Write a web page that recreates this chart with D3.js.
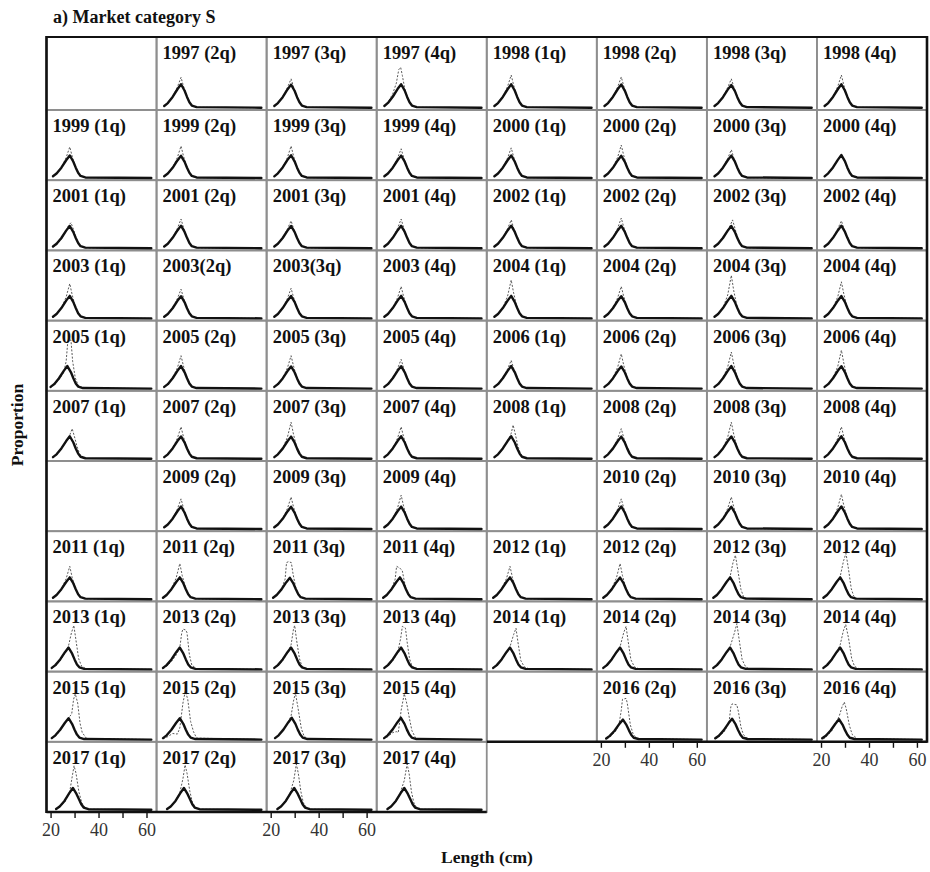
<!DOCTYPE html>
<html>
<head>
<meta charset="utf-8">
<script src="https://cdn.jsdelivr.net/npm/d3@7"></script>
<style>
  body { margin: 0; background: #fff; }
  svg { display: block; }
</style>
</head>
<body>
<svg id="chart" width="930" height="872"></svg>
<script>
// Panel titles in reading order, 8 per row ("" = framed empty panel)
const panelLabels = [
  "", "1997 (2q)", "1997 (3q)", "1997 (4q)", "1998 (1q)", "1998 (2q)", "1998 (3q)", "1998 (4q)",
  "1999 (1q)", "1999 (2q)", "1999 (3q)", "1999 (4q)", "2000 (1q)", "2000 (2q)", "2000 (3q)", "2000 (4q)",
  "2001 (1q)", "2001 (2q)", "2001 (3q)", "2001 (4q)", "2002 (1q)", "2002 (2q)", "2002 (3q)", "2002 (4q)",
  "2003 (1q)", "2003(2q)", "2003(3q)", "2003 (4q)", "2004 (1q)", "2004 (2q)", "2004 (3q)", "2004 (4q)",
  "2005 (1q)", "2005 (2q)", "2005 (3q)", "2005 (4q)", "2006 (1q)", "2006 (2q)", "2006 (3q)", "2006 (4q)",
  "2007 (1q)", "2007 (2q)", "2007 (3q)", "2007 (4q)", "2008 (1q)", "2008 (2q)", "2008 (3q)", "2008 (4q)",
  "", "2009 (2q)", "2009 (3q)", "2009 (4q)", "", "2010 (2q)", "2010 (3q)", "2010 (4q)",
  "2011 (1q)", "2011 (2q)", "2011 (3q)", "2011 (4q)", "2012 (1q)", "2012 (2q)", "2012 (3q)", "2012 (4q)",
  "2013 (1q)", "2013 (2q)", "2013 (3q)", "2013 (4q)", "2014 (1q)", "2014 (2q)", "2014 (3q)", "2014 (4q)",
  "2015 (1q)", "2015 (2q)", "2015 (3q)", "2015 (4q)", "", "2016 (2q)", "2016 (3q)", "2016 (4q)",
  "2017 (1q)", "2017 (2q)", "2017 (3q)", "2017 (4q)"
];

// Solid curves: [length (cm), proportion]
const solidCurves = [
  // 1997-1998
  null,
  [[21.5,.011],[23,.026],[25,.058],[27,.098],[28.5,.124],[30,.09],[31,.058],[32,.03],[33,.013],[35,.005],[62,.002]],
  [[21.5,.011],[23,.026],[25,.057],[27,.097],[28.5,.122],[30,.089],[31,.057],[32,.03],[33,.013],[35,.005],[62,.002]],
  [[21.5,.011],[23,.027],[25,.059],[27,.099],[28.5,.124],[30,.091],[31,.058],[32,.03],[33,.013],[35,.005],[62,.002]],
  [[21.5,.011],[23,.026],[25,.058],[27,.098],[28.5,.124],[30,.09],[31,.058],[32,.03],[33,.013],[35,.005],[62,.002]],
  [[21.5,.011],[23,.026],[25,.058],[27,.098],[28.5,.123],[30,.09],[31,.058],[32,.03],[33,.013],[35,.005],[62,.002]],
  [[21.5,.011],[23,.026],[25,.057],[27,.096],[28.5,.12],[30,.088],[31,.057],[32,.03],[33,.013],[35,.005],[62,.002]],
  [[21.5,.011],[23,.026],[25,.058],[27,.098],[28.5,.124],[30,.09],[31,.058],[32,.03],[33,.013],[35,.005],[62,.002]],
  // 1999-2000
  [[21,.011],[22.5,.026],[24.5,.058],[26.5,.098],[28,.124],[29.5,.09],[30.5,.058],[31.5,.03],[32.5,.013],[34.5,.005],[62,.002]],
  [[21.5,.011],[23,.026],[25,.057],[27,.097],[28.5,.122],[30,.089],[31,.057],[32,.03],[33,.013],[35,.005],[62,.002]],
  [[21.5,.011],[23,.027],[25,.059],[27,.1],[28.5,.125],[30,.091],[31,.058],[32,.03],[33,.013],[35,.005],[62,.002]],
  [[21.5,.011],[23,.026],[25,.058],[27,.098],[28.5,.123],[30,.09],[31,.058],[32,.03],[33,.013],[35,.005],[62,.002]],
  [[21.5,.011],[23,.026],[25,.058],[27,.098],[28.5,.124],[30,.09],[31,.058],[32,.03],[33,.013],[35,.005],[62,.002]],
  [[21.5,.011],[23,.026],[25,.057],[27,.097],[28.5,.122],[30,.089],[31,.057],[32,.03],[33,.013],[35,.005],[62,.002]],
  [[21.5,.011],[23,.026],[25,.058],[27,.098],[28.5,.123],[30,.09],[31,.058],[32,.03],[33,.013],[35,.005],[62,.002]],
  [[21.5,.011],[23,.027],[25,.059],[27,.1],[28.5,.126],[30,.092],[31,.058],[32,.03],[33,.013],[35,.005],[62,.002]],
  // 2001-2002
  [[21,.011],[22.5,.026],[24.5,.057],[26.5,.097],[28,.122],[29.5,.089],[30.5,.057],[31.5,.03],[32.5,.013],[34.5,.005],[62,.002]],
  [[21.5,.011],[23,.026],[25,.058],[27,.098],[28.5,.124],[30,.09],[31,.058],[32,.03],[33,.013],[35,.005],[62,.002]],
  [[21.5,.011],[23,.026],[25,.057],[27,.097],[28.5,.122],[30,.089],[31,.057],[32,.03],[33,.013],[35,.005],[62,.002]],
  [[21.5,.011],[23,.026],[25,.058],[27,.098],[28.5,.123],[30,.09],[31,.058],[32,.03],[33,.013],[35,.005],[62,.002]],
  [[21.5,.011],[23,.026],[25,.058],[27,.098],[28.5,.124],[30,.09],[31,.058],[32,.03],[33,.013],[35,.005],[62,.002]],
  [[21.5,.011],[23,.026],[25,.058],[27,.098],[28.5,.123],[30,.09],[31,.058],[32,.03],[33,.013],[35,.005],[62,.002]],
  [[21.5,.011],[23,.026],[25,.057],[27,.097],[28.5,.122],[30,.089],[31,.057],[32,.03],[33,.013],[35,.005],[62,.002]],
  [[21.5,.011],[23,.026],[25,.058],[27,.098],[28.5,.124],[30,.09],[31,.058],[32,.03],[33,.013],[35,.005],[62,.002]],
  // 2003-2004
  [[21,.011],[22.5,.026],[24.5,.058],[26.5,.098],[28,.124],[29.5,.09],[30.5,.058],[31.5,.03],[32.5,.013],[34.5,.005],[62,.002]],
  [[21.5,.011],[23,.026],[25,.057],[27,.097],[28.5,.122],[30,.089],[31,.057],[32,.03],[33,.013],[35,.005],[62,.002]],
  [[21.5,.011],[23,.026],[25,.058],[27,.098],[28.5,.123],[30,.09],[31,.058],[32,.03],[33,.013],[35,.005],[62,.002]],
  [[21.5,.011],[23,.026],[25,.058],[27,.098],[28.5,.124],[30,.09],[31,.058],[32,.03],[33,.013],[35,.005],[62,.002]],
  [[21.5,.011],[23,.026],[25,.058],[27,.098],[28.5,.124],[30,.09],[31,.058],[32,.03],[33,.013],[35,.005],[62,.002]],
  [[21.5,.011],[23,.026],[25,.057],[27,.097],[28.5,.122],[30,.089],[31,.057],[32,.03],[33,.013],[35,.005],[62,.002]],
  [[21.5,.011],[23,.026],[25,.058],[27,.098],[28.5,.124],[30,.09],[31,.058],[32,.03],[33,.013],[35,.005],[62,.002]],
  [[21.5,.011],[23,.026],[25,.058],[27,.098],[28.5,.123],[30,.09],[31,.058],[32,.03],[33,.013],[35,.005],[62,.002]],
  // 2005-2006
  [[20,.011],[21.5,.026],[23.5,.058],[25.5,.098],[27,.124],[28.5,.09],[29.5,.058],[30.5,.03],[31.5,.013],[33.5,.005],[62,.002]],
  [[21.5,.011],[23,.026],[25,.058],[27,.098],[28.5,.124],[30,.09],[31,.058],[32,.03],[33,.013],[35,.005],[62,.002]],
  [[21.5,.011],[23,.026],[25,.057],[27,.097],[28.5,.122],[30,.089],[31,.057],[32,.03],[33,.013],[35,.005],[62,.002]],
  [[21.5,.011],[23,.026],[25,.058],[27,.098],[28.5,.123],[30,.09],[31,.058],[32,.03],[33,.013],[35,.005],[62,.002]],
  [[21.5,.011],[23,.026],[25,.058],[27,.098],[28.5,.124],[30,.09],[31,.058],[32,.03],[33,.013],[35,.005],[62,.002]],
  [[21.5,.011],[23,.026],[25,.057],[27,.097],[28.5,.122],[30,.089],[31,.057],[32,.03],[33,.013],[35,.005],[62,.002]],
  [[21.5,.011],[23,.026],[25,.058],[27,.098],[28.5,.124],[30,.09],[31,.058],[32,.03],[33,.013],[35,.005],[62,.002]],
  [[21.5,.011],[23,.026],[25,.058],[27,.098],[28.5,.123],[30,.09],[31,.058],[32,.03],[33,.013],[35,.005],[62,.002]],
  // 2007-2008
  [[21,.011],[22.5,.026],[24.5,.058],[26.5,.098],[28,.124],[29.5,.09],[30.5,.058],[31.5,.03],[32.5,.013],[34.5,.005],[62,.002]],
  [[21.5,.011],[23,.026],[25,.058],[27,.098],[28.5,.123],[30,.09],[31,.058],[32,.03],[33,.013],[35,.005],[62,.002]],
  [[21.5,.011],[23,.026],[25,.057],[27,.097],[28.5,.122],[30,.089],[31,.057],[32,.03],[33,.013],[35,.005],[62,.002]],
  [[21.5,.011],[23,.026],[25,.058],[27,.098],[28.5,.124],[30,.09],[31,.058],[32,.03],[33,.013],[35,.005],[62,.002]],
  [[21.5,.011],[23,.026],[25,.058],[27,.098],[28.5,.124],[30,.09],[31,.058],[32,.03],[33,.013],[35,.005],[62,.002]],
  [[21.5,.011],[23,.026],[25,.057],[27,.097],[28.5,.122],[30,.089],[31,.057],[32,.03],[33,.013],[35,.005],[62,.002]],
  [[21.5,.011],[23,.026],[25,.058],[27,.098],[28.5,.123],[30,.09],[31,.058],[32,.03],[33,.013],[35,.005],[62,.002]],
  [[21.5,.011],[23,.026],[25,.058],[27,.098],[28.5,.124],[30,.09],[31,.058],[32,.03],[33,.013],[35,.005],[62,.002]],
  // 2009-2010
  null,
  [[21.5,.011],[23,.026],[25,.058],[27,.098],[28.5,.124],[30,.09],[31,.058],[32,.03],[33,.013],[35,.005],[62,.002]],
  [[21.5,.011],[23,.026],[25,.057],[27,.097],[28.5,.122],[30,.089],[31,.057],[32,.03],[33,.013],[35,.005],[62,.002]],
  [[21.5,.011],[23,.026],[25,.058],[27,.098],[28.5,.123],[30,.09],[31,.058],[32,.03],[33,.013],[35,.005],[62,.002]],
  null,
  [[21.5,.011],[23,.026],[25,.058],[27,.098],[28.5,.124],[30,.09],[31,.058],[32,.03],[33,.013],[35,.005],[62,.002]],
  [[21.5,.011],[23,.026],[25,.057],[27,.097],[28.5,.122],[30,.089],[31,.057],[32,.03],[33,.013],[35,.005],[62,.002]],
  [[21.5,.011],[23,.026],[25,.058],[27,.098],[28.5,.124],[30,.09],[31,.058],[32,.03],[33,.013],[35,.005],[62,.002]],
  // 2011-2012
  [[21,.01],[22.5,.025],[24.5,.056],[26.5,.095],[28,.12],[29.5,.087],[30.5,.056],[31.5,.029],[32.5,.013],[34.5,.005],[62,.002]],
  [[21,.01],[22.5,.025],[24.5,.056],[26.5,.095],[28,.12],[29.5,.087],[30.5,.056],[31.5,.029],[32.5,.013],[34.5,.005],[62,.002]],
  [[21,.01],[22.5,.025],[24.5,.055],[26.5,.094],[28,.118],[29.5,.086],[30.5,.056],[31.5,.029],[32.5,.013],[34.5,.005],[62,.002]],
  [[21,.01],[22.5,.025],[24.5,.056],[26.5,.095],[28,.12],[29.5,.087],[30.5,.056],[31.5,.029],[32.5,.013],[34.5,.005],[62,.002]],
  [[21,.01],[22.5,.025],[24.5,.056],[26.5,.095],[28,.12],[29.5,.087],[30.5,.056],[31.5,.029],[32.5,.013],[34.5,.005],[62,.002]],
  [[21,.01],[22.5,.025],[24.5,.055],[26.5,.094],[28,.119],[29.5,.087],[30.5,.056],[31.5,.029],[32.5,.013],[34.5,.005],[62,.002]],
  [[21,.01],[22.5,.025],[24.5,.056],[26.5,.095],[28,.12],[29.5,.087],[30.5,.056],[31.5,.029],[32.5,.013],[34.5,.005],[62,.002]],
  [[21,.01],[22.5,.025],[24.5,.056],[26.5,.095],[28,.12],[29.5,.087],[30.5,.056],[31.5,.029],[32.5,.013],[34.5,.005],[62,.002]],
  // 2013-2014
  [[20.5,.01],[22,.025],[24,.056],[26,.095],[27.5,.12],[29,.087],[30,.056],[31,.029],[32,.013],[34,.005],[62,.002]],
  [[21,.01],[22.5,.025],[24.5,.056],[26.5,.095],[28,.12],[29.5,.087],[30.5,.056],[31.5,.029],[32.5,.013],[34.5,.005],[62,.002]],
  [[21.5,.01],[23,.025],[25,.056],[27,.095],[28.5,.12],[30,.087],[31,.056],[32,.029],[33,.013],[35,.005],[62,.002]],
  [[21.5,.01],[23,.025],[25,.056],[27,.095],[28.5,.12],[30,.087],[31,.056],[32,.029],[33,.013],[35,.005],[62,.002]],
  [[21,.01],[22.5,.025],[24.5,.056],[26.5,.095],[28,.12],[29.5,.087],[30.5,.056],[31.5,.029],[32.5,.013],[34.5,.005],[62,.002]],
  [[21,.01],[22.5,.025],[24.5,.056],[26.5,.095],[28,.12],[29.5,.087],[30.5,.056],[31.5,.029],[32.5,.013],[34.5,.005],[62,.002]],
  [[21,.01],[22.5,.025],[24.5,.056],[26.5,.095],[28,.12],[29.5,.087],[30.5,.056],[31.5,.029],[32.5,.013],[34.5,.005],[62,.002]],
  [[21,.01],[22.5,.025],[24.5,.056],[26.5,.095],[28,.12],[29.5,.087],[30.5,.056],[31.5,.029],[32.5,.013],[34.5,.005],[62,.002]],
  // 2015-2016
  [[20.5,.01],[22,.025],[24,.055],[26,.093],[27.5,.118],[29,.086],[30,.055],[31,.029],[32,.013],[34,.005],[62,.002]],
  [[21,.01],[22.5,.025],[24.5,.055],[26.5,.093],[28,.118],[29.5,.086],[30.5,.055],[31.5,.029],[32.5,.013],[34.5,.005],[62,.002]],
  [[21.8,.01],[23.3,.025],[25.3,.056],[27.3,.095],[28.8,.12],[30.3,.087],[31.3,.056],[32.3,.029],[33.3,.013],[35.3,.005],[62,.002]],
  [[21.4,.01],[22.9,.025],[24.9,.056],[26.9,.095],[28.4,.12],[29.9,.087],[30.9,.056],[31.9,.029],[32.9,.013],[34.9,.005],[62,.002]],
  null,
  [[22.2,.008],[23.7,.022],[25.7,.05],[27.7,.087],[29.2,.11],[30.7,.08],[31.7,.052],[32.7,.027],[33.7,.012],[35.7,.005],[62,.002]],
  [[21.8,.009],[23.3,.023],[25.3,.052],[27.3,.09],[28.8,.115],[30.3,.084],[31.3,.054],[32.3,.028],[33.3,.012],[35.3,.005],[62,.002]],
  [[20.5,.009],[22,.023],[24,.051],[26,.088],[27.5,.112],[29,.082],[30,.053],[31,.028],[32,.012],[34,.005],[62,.002]],
  // 2017
  [[22.3,.006],[23.8,.02],[25.8,.05],[27.8,.092],[29.3,.12],[30.8,.088],[31.8,.06],[32.8,.032],[33.8,.014],[35.8,.005],[62,.002]],
  [[22.7,.006],[24.2,.02],[26.2,.05],[28.2,.092],[29.7,.12],[31.2,.088],[32.2,.06],[33.2,.032],[34.2,.014],[36.2,.005],[62,.002]],
  [[22.8,.006],[24.3,.02],[26.3,.05],[28.3,.092],[29.8,.12],[31.3,.088],[32.3,.06],[33.3,.032],[34.3,.014],[36.3,.005],[62,.002]],
  [[22.8,.006],[24.3,.02],[26.3,.05],[28.3,.092],[29.8,.12],[31.3,.088],[32.3,.06],[33.3,.032],[34.3,.014],[36.3,.005],[62,.002]]
];

// Dotted curves: [length (cm), proportion]
const dottedCurves = [
  // 1997-1998
  null,
  [[21.5,.009],[23,.024],[25,.058],[27,.11],[28.5,.16],[29.5,.115],[31,.056],[32,.028],[33,.012],[35,.004],[62,.002]],
  [[21.5,.009],[23,.024],[25,.058],[27,.108],[28.5,.152],[29.5,.112],[31,.056],[32,.028],[33,.012],[35,.004],[62,.002]],
  [[21.5,.01],[23,.03],[25,.075],[26.5,.13],[27.5,.2],[28.3,.212],[29,.17],[30,.1],[31,.055],[32,.03],[33,.012],[35,.004],[62,.002]],
  [[21.5,.009],[23,.024],[25,.058],[27,.113],[28.5,.172],[29.5,.12],[31,.056],[32,.028],[33,.012],[35,.004],[62,.002]],
  [[21.5,.009],[23,.024],[25,.058],[27,.11],[28.5,.162],[29.5,.116],[31,.056],[32,.028],[33,.012],[35,.004],[62,.002]],
  [[21.5,.009],[23,.024],[25,.058],[27,.108],[28.5,.152],[29.5,.112],[31,.056],[32,.028],[33,.012],[35,.004],[62,.002]],
  [[21.5,.009],[23,.024],[25,.058],[27,.113],[28.5,.172],[29.5,.12],[31,.056],[32,.028],[33,.012],[35,.004],[62,.002]],
  // 1999-2000
  [[21,.009],[22.5,.024],[24.5,.058],[26.5,.113],[28,.17],[29,.12],[30.5,.056],[31.5,.028],[32.5,.012],[34.5,.004],[62,.002]],
  [[21.5,.009],[23,.024],[25,.058],[27,.114],[28.5,.175],[29.5,.122],[31,.056],[32,.028],[33,.012],[35,.004],[62,.002]],
  [[21.5,.009],[23,.024],[25,.058],[27,.114],[28.5,.175],[29.5,.122],[31,.056],[32,.028],[33,.012],[35,.004],[62,.002]],
  [[21.5,.009],[23,.024],[25,.058],[27,.11],[28.5,.16],[29.5,.115],[31,.056],[32,.028],[33,.012],[35,.004],[62,.002]],
  [[21.5,.009],[23,.024],[25,.058],[27,.111],[28.5,.165],[29.5,.117],[31,.056],[32,.028],[33,.012],[35,.004],[62,.002]],
  [[21.5,.009],[23,.024],[25,.058],[27,.115],[28.5,.18],[29.5,.125],[31,.056],[32,.028],[33,.012],[35,.004],[62,.002]],
  [[21.5,.009],[23,.024],[25,.058],[27,.109],[28.5,.155],[29.5,.112],[31,.056],[32,.028],[33,.012],[35,.004],[62,.002]],
  [[21.5,.01],[23,.025],[25,.057],[27,.1],[28.5,.13],[29.5,.1],[31,.057],[32,.029],[33,.012],[35,.004],[62,.002]],
  // 2001-2002
  [[21,.008],[22.5,.02],[24.5,.05],[26.5,.1],[27.5,.125],[28.5,.14],[29.5,.105],[30.5,.065],[31.5,.032],[32.5,.013],[34.5,.004],[62,.002]],
  [[21.5,.009],[23,.024],[25,.058],[27,.11],[28.5,.16],[29.5,.115],[31,.056],[32,.028],[33,.012],[35,.004],[62,.002]],
  [[21.5,.009],[23,.024],[25,.058],[27,.108],[28.5,.15],[29.5,.11],[31,.056],[32,.028],[33,.012],[35,.004],[62,.002]],
  [[21.5,.009],[23,.024],[25,.058],[27,.11],[28.5,.16],[29.5,.115],[31,.056],[32,.028],[33,.012],[35,.004],[62,.002]],
  [[21.5,.009],[23,.024],[25,.058],[27,.109],[28.5,.155],[29.5,.112],[31,.056],[32,.028],[33,.012],[35,.004],[62,.002]],
  [[21.5,.009],[23,.024],[25,.058],[27,.111],[28.5,.165],[29.5,.117],[31,.056],[32,.028],[33,.012],[35,.004],[62,.002]],
  [[21.5,.008],[23,.022],[25,.055],[27,.1],[28.2,.13],[29,.155],[30,.11],[31,.065],[32,.03],[33,.012],[35,.004],[62,.002]],
  [[21.5,.009],[23,.024],[25,.058],[27,.108],[28.5,.15],[29.5,.11],[31,.056],[32,.028],[33,.012],[35,.004],[62,.002]],
  // 2003-2004
  [[21,.009],[22.5,.024],[24.5,.058],[26.5,.118],[28,.19],[29,.13],[30.5,.056],[31.5,.028],[32.5,.012],[34.5,.004],[62,.002]],
  [[21.5,.009],[23,.024],[25,.058],[27,.11],[28.5,.16],[29.5,.115],[31,.056],[32,.028],[33,.012],[35,.004],[62,.002]],
  [[21.5,.009],[23,.024],[25,.058],[27,.111],[28.5,.165],[29.5,.117],[31,.056],[32,.028],[33,.012],[35,.004],[62,.002]],
  [[21.5,.009],[23,.024],[25,.058],[27,.114],[28.5,.175],[29.5,.122],[31,.056],[32,.028],[33,.012],[35,.004],[62,.002]],
  [[21.5,.009],[23,.024],[25,.058],[27,.123],[28.5,.21],[29.5,.14],[31,.056],[32,.028],[33,.012],[35,.004],[62,.002]],
  [[21.5,.009],[23,.024],[25,.058],[27,.114],[28.5,.175],[29.5,.122],[31,.056],[32,.028],[33,.012],[35,.004],[62,.002]],
  [[21.5,.009],[23,.024],[25,.058],[27,.129],[28.5,.235],[29.5,.152],[31,.058],[32,.028],[33,.012],[35,.004],[62,.002]],
  [[21.5,.009],[23,.024],[25,.058],[27,.12],[28.5,.2],[29.5,.135],[31,.056],[32,.028],[33,.012],[35,.004],[62,.002]],
  // 2005-2006
  [[20,.008],[21.5,.02],[23.5,.05],[25.5,.09],[26.5,.15],[27.2,.26],[28.5,.265],[29.2,.15],[30.3,.06],[31.5,.02],[33.5,.005],[62,.002]],
  [[21.5,.009],[23,.024],[25,.058],[27,.115],[28.5,.18],[29.5,.125],[31,.056],[32,.028],[33,.012],[35,.004],[62,.002]],
  [[21.5,.009],[23,.024],[25,.058],[27,.115],[28.5,.18],[29.5,.125],[31,.056],[32,.028],[33,.012],[35,.004],[62,.002]],
  [[21.5,.009],[23,.024],[25,.058],[27,.11],[28.5,.16],[29.5,.115],[31,.056],[32,.028],[33,.012],[35,.004],[62,.002]],
  [[21.5,.009],[23,.024],[25,.058],[27,.109],[28.5,.155],[29.5,.112],[31,.056],[32,.028],[33,.012],[35,.004],[62,.002]],
  [[21.5,.009],[23,.024],[25,.058],[27,.118],[28.5,.19],[29.5,.13],[31,.056],[32,.028],[33,.012],[35,.004],[62,.002]],
  [[21.5,.009],[23,.024],[25,.058],[27,.12],[28.5,.2],[29.5,.135],[31,.056],[32,.028],[33,.012],[35,.004],[62,.002]],
  [[21.5,.009],[23,.024],[25,.058],[27,.123],[28.5,.21],[29.5,.14],[31,.056],[32,.028],[33,.012],[35,.004],[62,.002]],
  // 2007-2008
  [[21,.008],[22.5,.022],[24.5,.055],[26.5,.095],[28,.13],[29,.165],[30,.12],[31,.07],[32,.032],[33,.012],[35,.004],[62,.002]],
  [[21.5,.009],[23,.024],[25,.058],[27,.114],[28.5,.175],[29.5,.122],[31,.056],[32,.028],[33,.012],[35,.004],[62,.002]],
  [[21.5,.009],[23,.024],[25,.058],[27,.12],[28.5,.2],[29.5,.135],[31,.056],[32,.028],[33,.012],[35,.004],[62,.002]],
  [[21.5,.009],[23,.024],[25,.058],[27,.114],[28.5,.175],[29.5,.122],[31,.056],[32,.028],[33,.012],[35,.004],[62,.002]],
  [[21.5,.008],[23,.022],[25,.055],[27,.098],[28.5,.14],[29.3,.185],[30.3,.13],[31.3,.07],[32.3,.032],[33.3,.012],[35,.004],[62,.002]],
  [[21.5,.009],[23,.024],[25,.058],[27,.111],[28.5,.165],[29.5,.117],[31,.056],[32,.028],[33,.012],[35,.004],[62,.002]],
  [[21.5,.009],[23,.024],[25,.058],[27,.12],[28.5,.2],[29.5,.135],[31,.056],[32,.028],[33,.012],[35,.004],[62,.002]],
  [[21.5,.009],[23,.024],[25,.058],[27,.114],[28.5,.175],[29.5,.122],[31,.056],[32,.028],[33,.012],[35,.004],[62,.002]],
  // 2009-2010
  null,
  [[21.5,.009],[23,.024],[25,.058],[27,.111],[28.5,.165],[29.5,.117],[31,.056],[32,.028],[33,.012],[35,.004],[62,.002]],
  [[21.5,.009],[23,.024],[25,.058],[27,.114],[28.5,.175],[29.5,.122],[31,.056],[32,.028],[33,.012],[35,.004],[62,.002]],
  [[21.5,.009],[23,.024],[25,.058],[27,.116],[28.5,.185],[29.5,.127],[31,.056],[32,.028],[33,.012],[35,.004],[62,.002]],
  null,
  [[21.5,.009],[23,.024],[25,.058],[27,.111],[28.5,.165],[29.5,.117],[31,.056],[32,.028],[33,.012],[35,.004],[62,.002]],
  [[21.5,.009],[23,.024],[25,.058],[27,.114],[28.5,.175],[29.5,.122],[31,.056],[32,.028],[33,.012],[35,.004],[62,.002]],
  [[21.5,.009],[23,.024],[25,.058],[27,.118],[28.5,.19],[29.5,.13],[31,.056],[32,.028],[33,.012],[35,.004],[62,.002]],
  // 2011-2012
  [[21,.009],[22.5,.024],[24.5,.058],[26.5,.113],[28,.18],[29,.12],[30.5,.056],[31.5,.028],[32.5,.012],[34.5,.004],[62,.002]],
  [[21,.009],[22.5,.024],[24.5,.058],[26.5,.118],[28,.195],[29,.13],[30.5,.056],[31.5,.028],[32.5,.012],[34.5,.004],[62,.002]],
  [[21,.008],[22.5,.022],[24.5,.058],[26,.11],[26.6,.2],[27.4,.205],[28.6,.2],[29.3,.14],[30.5,.06],[31.5,.028],[32.5,.012],[34.5,.004],[62,.002]],
  [[21,.008],[22.5,.022],[24.5,.058],[26,.11],[26.6,.18],[28,.17],[29,.155],[29.8,.1],[30.5,.06],[31.5,.028],[32.5,.012],[34.5,.004],[62,.002]],
  [[21,.009],[22.5,.024],[24.5,.058],[26.5,.113],[28,.18],[29,.12],[30.5,.056],[31.5,.028],[32.5,.012],[34.5,.004],[62,.002]],
  [[21,.009],[22.5,.024],[24.5,.058],[26.5,.118],[28,.195],[29,.13],[30.5,.056],[31.5,.028],[32.5,.012],[34.5,.004],[62,.002]],
  [[21,.009],[22.5,.024],[24.5,.056],[26.5,.095],[28,.125],[29.2,.2],[30.2,.24],[31.2,.16],[32.5,.055],[33.5,.018],[35,.005],[62,.002]],
  [[21,.009],[22.5,.024],[24.5,.056],[26.5,.095],[28,.125],[29.4,.21],[30.4,.25],[31.4,.17],[32.6,.06],[33.6,.02],[35,.005],[62,.002]],
  // 2013-2014
  [[20.5,.008],[22,.02],[24,.05],[26,.09],[27.5,.13],[28.7,.2],[29.7,.24],[30.7,.15],[31.7,.06],[33,.018],[35,.005],[62,.002]],
  [[21,.006],[22.5,.018],[24.5,.045],[26.5,.08],[28,.12],[28.8,.2],[29.3,.22],[30.5,.215],[31,.2],[32,.08],[33,.025],[35,.006],[62,.002]],
  [[21.5,.008],[23,.02],[25,.05],[27,.09],[28.5,.135],[29.5,.22],[30,.24],[30.8,.16],[32,.06],[33,.02],[35,.005],[62,.002]],
  [[21.5,.008],[23,.02],[25,.05],[27,.09],[28.3,.17],[29,.235],[30.3,.225],[31,.15],[32,.06],[33,.02],[35,.005],[62,.002]],
  [[21,.008],[22.5,.022],[24.5,.052],[26.5,.092],[28,.125],[29.5,.19],[30.5,.225],[31.3,.15],[32.5,.05],[34,.015],[36,.005],[62,.002]],
  [[21,.008],[22.5,.022],[24.5,.052],[26.5,.092],[28,.125],[29.5,.2],[30.5,.235],[31.3,.16],[32.5,.055],[34,.015],[36,.005],[62,.002]],
  [[21,.008],[22.5,.022],[24.5,.052],[26.5,.092],[28,.125],[29.8,.2],[30.8,.25],[31.8,.16],[33,.055],[34.5,.015],[36,.005],[62,.002]],
  [[21,.008],[22.5,.022],[24.5,.052],[26.5,.095],[28,.135],[29.3,.21],[30.3,.245],[31.5,.17],[32.8,.06],[34,.018],[36,.005],[62,.002]],
  // 2015-2016
  [[20.5,.008],[22,.02],[24,.05],[26,.09],[27.5,.12],[28.8,.14],[29.6,.22],[30.3,.25],[31.3,.2],[32.3,.09],[33.2,.04],[35,.008],[62,.002]],
  [[21,.006],[23,.018],[25,.035],[27,.032],[28,.065],[29.3,.2],[30.3,.265],[31.3,.22],[32.5,.1],[33.7,.045],[35,.01],[62,.002]],
  [[21.5,.007],[23,.02],[25,.05],[27,.09],[28.5,.13],[29.5,.21],[30.3,.255],[31.3,.18],[32.8,.06],[34,.018],[36,.005],[62,.002]],
  [[21,.006],[23,.018],[25,.04],[26.5,.045],[27.3,.04],[28.5,.16],[29.8,.25],[30.8,.2],[31.9,.12],[33,.05],[34.5,.012],[36,.004],[62,.002]],
  null,
  [[22.5,.005],[24,.018],[26,.045],[27.5,.08],[28.5,.16],[29,.22],[30.5,.225],[31,.2],[32.3,.08],[33.5,.03],[35,.008],[62,.002]],
  [[22,.005],[23.5,.018],[25.5,.045],[27.5,.09],[28.3,.18],[28.8,.195],[30.8,.19],[31.5,.15],[32.5,.07],[33.5,.03],[35,.008],[62,.002]],
  [[21,.006],[22.5,.02],[24.5,.05],[26,.09],[27.5,.125],[28.8,.18],[29.7,.205],[30.5,.17],[31.8,.08],[33,.03],[35,.008],[62,.002]],
  // 2017
  [[22.5,.005],[24,.018],[26,.045],[28,.1],[29,.18],[29.8,.24],[30.6,.2],[31.8,.1],[33,.04],[34.5,.012],[36,.005],[62,.002]],
  [[22.5,.005],[24,.018],[26,.045],[28,.095],[29.3,.17],[30.2,.245],[31,.2],[32.2,.1],[33.3,.04],[34.8,.012],[36,.005],[62,.002]],
  [[22.5,.005],[24,.018],[26,.045],[28,.09],[29.6,.16],[30.7,.25],[31.5,.2],[32.6,.1],[33.6,.04],[35,.012],[36.5,.005],[62,.002]],
  [[22.5,.005],[24,.018],[26,.045],[28,.09],[29.8,.16],[31,.25],[31.8,.2],[32.8,.1],[33.8,.04],[35,.012],[36.5,.005],[62,.002]]
];

const lengthTicks = [20, 30, 40, 50, 60];
const lengthTickLabels = [20, 40, 60];
// panels [row, col] whose bottom edge carries the length axis ticks
const tickedPanels = [[10, 0], [10, 2], [9, 5], [9, 7]];

// ---- layout ----
const nCols = 8, nRows = 11;
const gridLeft = 46.5, gridRight = 927, gridTop = 37, firstRowBottom = 110, gridBottom = 812;
const lengthDomain = [18.3, 64.2];
const propDomain = [-0.01, 0.37];
const serif = "'Liberation Serif', 'Times New Roman', Times, serif";

const svg = d3.select("#chart");
svg.append("rect").attr("width", 930).attr("height", 872).attr("fill", "#fff");

const colScale = d3.scaleBand().domain(d3.range(nCols)).range([gridLeft, gridRight]);
const rowEdge = d3.scaleLinear().domain([1, nRows]).range([firstRowBottom, gridBottom]);
const rowTop = r => (r === 0 ? gridTop : rowEdge(r));
const rowBottom = r => rowEdge(r + 1);

function panelScales(r, c) {
  const x0 = colScale(c), x1 = x0 + colScale.bandwidth();
  const x = d3.scaleLinear().domain(lengthDomain).range([x0, x1]);
  const y = d3.scaleLinear().domain(propDomain).range([rowBottom(r), rowTop(r)]);
  return { x, y, x0, x1, y0: rowTop(r), y1: rowBottom(r) };
}

const framesG = svg.append("g");
const curvesG = svg.append("g");
const labelsG = svg.append("g");

panelLabels.forEach((label, i) => {
  const r = Math.floor(i / nCols), c = i % nCols;
  const s = panelScales(r, c);

  framesG.append("rect")
    .attr("x", s.x0).attr("y", s.y0)
    .attr("width", s.x1 - s.x0).attr("height", s.y1 - s.y0)
    .attr("fill", "none").attr("stroke", "#8e8e8e").attr("stroke-width", 1.8);

  const line = d3.line().x(d => s.x(d[0])).y(d => s.y(d[1]));

  if (dottedCurves[i]) {
    curvesG.append("path")
      .attr("d", line(dottedCurves[i]))
      .attr("fill", "none").attr("stroke", "#5a5a5a")
      .attr("stroke-width", 1).attr("stroke-dasharray", "2,1.6");
  }
  if (solidCurves[i]) {
    curvesG.append("path")
      .attr("d", line(solidCurves[i]))
      .attr("fill", "none").attr("stroke", "#111")
      .attr("stroke-width", 2.4).attr("stroke-linejoin", "round").attr("stroke-linecap", "round");
  }
  if (label) {
    labelsG.append("text")
      .attr("x", s.x0 + 6).attr("y", s.y0 + 22)
      .attr("font-family", serif).attr("font-weight", "bold").attr("font-size", 18.5)
      .attr("fill", "#111").text(label);
  }
});

// outer frame and the two bottom axis lines
const frame = svg.append("g").attr("stroke", "#111").attr("stroke-width", 2.6).attr("fill", "none");
const splitX = colScale(4);
const rightAxisY = rowBottom(9);
frame.append("line").attr("x1", gridLeft).attr("x2", gridLeft).attr("y1", gridTop - 1).attr("y2", gridBottom + 1);
frame.append("line").attr("x1", gridLeft).attr("x2", gridRight).attr("y1", gridTop).attr("y2", gridTop).attr("stroke-width", 2.2);
frame.append("line").attr("x1", gridRight).attr("x2", gridRight).attr("y1", gridTop - 1).attr("y2", rightAxisY + 1);
frame.append("line").attr("x1", gridLeft).attr("x2", splitX).attr("y1", gridBottom).attr("y2", gridBottom);
frame.append("line").attr("x1", splitX).attr("x2", gridRight).attr("y1", rightAxisY).attr("y2", rightAxisY);

// length axes under selected panels
tickedPanels.forEach(([r, c]) => {
  const s = panelScales(r, c);
  const axis = d3.axisBottom(s.x)
    .tickValues(lengthTicks)
    .tickSize(6).tickSizeOuter(0).tickPadding(5)
    .tickFormat(d => (lengthTickLabels.includes(d) ? d : ""));
  const g = svg.append("g").attr("transform", `translate(0,${s.y1})`).call(axis);
  g.select(".domain").remove();
  g.selectAll(".tick line").attr("stroke", "#111").attr("stroke-width", 1.4);
  g.selectAll(".tick text").attr("font-family", serif).attr("font-size", 18).attr("fill", "#333");
});

// titles
svg.append("text").attr("x", 53).attr("y", 23)
  .attr("font-family", serif).attr("font-weight", "bold").attr("font-size", 18)
  .attr("fill", "#111").text("a) Market category S");

svg.append("text").attr("x", 487).attr("y", 863).attr("text-anchor", "middle")
  .attr("font-family", serif).attr("font-weight", "bold").attr("font-size", 17.5)
  .attr("fill", "#111").text("Length (cm)");

svg.append("text").attr("transform", "translate(23,425) rotate(-90)").attr("text-anchor", "middle")
  .attr("font-family", serif).attr("font-weight", "bold").attr("font-size", 17.5)
  .attr("fill", "#111").text("Proportion");
</script>
</body>
</html>
